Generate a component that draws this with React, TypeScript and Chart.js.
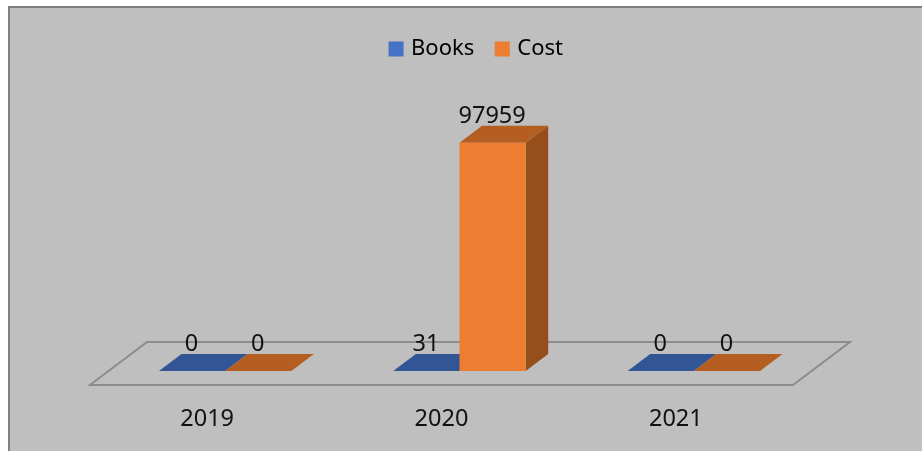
import React, { useEffect, useRef } from "react";
import { Chart, registerables } from "chart.js";

Chart.register(...registerables);

const categories = ["2019", "2020", "2021"];
const books = [0, 31, 0];
const cost = [0, 97959, 0];
const seriesNames = ["Books", "Cost"];

const FONT = '"Noto Sans", sans-serif';
const FRONT = ["#4472C4", "#ED7D31"];
const TOP = ["#325596", "#B55E22"];
const SIDE = ["#2A4A85", "#964F1B"];
const DX = 22.5;
const DY = 17;

const poly = (ctx: CanvasRenderingContext2D, pts: number[][], fill: string) => {
  ctx.beginPath();
  pts.forEach(([x, y], i) => (i ? ctx.lineTo(x, y) : ctx.moveTo(x, y)));
  ctx.closePath();
  ctx.fillStyle = fill;
  ctx.fill();
};

const legendShift = {
  id: "legendShift",
  afterLayout(chart: any) {
    chart.legend.left += 18;
    chart.legend.right += 18;
  },
};

const floor3d = {
  id: "floor3d",
  beforeDatasetsDraw(chart: any) {
    const { ctx, chartArea: a } = chart;
    ctx.save();
    ctx.beginPath();
    ctx.moveTo(a.left - 18, a.bottom + 14);
    ctx.lineTo(a.right - 18, a.bottom + 14);
    ctx.lineTo(a.right + 39, a.bottom - 29);
    ctx.lineTo(a.left + 39, a.bottom - 29);
    ctx.closePath();
    ctx.lineWidth = 2;
    ctx.strokeStyle = "#8C8C8C";
    ctx.stroke();
    chart.data.datasets.forEach((_: any, d: number) => {
      chart.getDatasetMeta(d).data.forEach((bar: any) => {
        const l = bar.x - bar.width / 2;
        const r = bar.x + bar.width / 2;
        const t = bar.y;
        const b = bar.base;
        poly(ctx, [[r, t], [r + DX, t - DY], [r + DX, b - DY], [r, b]], SIDE[d]);
        poly(ctx, [[l, t], [r, t], [r + DX, t - DY], [l + DX, t - DY]], TOP[d]);
      });
    });
    ctx.restore();
  },
};

const valueLabels = {
  id: "valueLabels",
  afterDatasetsDraw(chart: any) {
    const { ctx } = chart;
    ctx.save();
    ctx.font = `23.5px ${FONT}`;
    ctx.fillStyle = "#111111";
    ctx.textAlign = "center";
    ctx.textBaseline = "alphabetic";
    chart.data.datasets.forEach((ds: any, d: number) => {
      chart.getDatasetMeta(d).data.forEach((bar: any, i: number) => {
        ctx.fillText(String(ds.data[i]), bar.x - 0.5, bar.y - DY - 3);
      });
    });
    ctx.restore();
  },
};

export default function App() {
  const ref = useRef<HTMLCanvasElement>(null);
  useEffect(() => {
    const chart = new Chart(ref.current!, {
      type: "bar",
      data: {
        labels: categories,
        datasets: [
          { label: seriesNames[0], data: books, backgroundColor: FRONT[0] },
          { label: seriesNames[1], data: cost, backgroundColor: FRONT[1] },
        ],
      },
      options: {
        animation: false,
        responsive: false,
        layout: { padding: { left: 108, right: 111, top: 14, bottom: 19 } },
        datasets: { bar: { categoryPercentage: 0.565, barPercentage: 1 } },
        scales: {
          x: {
            grid: { display: false, drawTicks: false },
            border: { display: false },
            afterFit(scale: any) {
              scale.height = 61;
            },
            ticks: {
              color: "#111111",
              font: { family: FONT, size: 23.5 },
              padding: 34,
              labelOffset: -18,
              maxRotation: 0,
              autoSkip: false,
            },
          },
          y: { display: false, min: 0, max: 129185 },
        },
        plugins: {
          tooltip: { enabled: false },
          legend: {
            position: "top",
            labels: {
              color: "#111111",
              font: { family: FONT, size: 22 },
              boxWidth: 8,
              boxHeight: 8,
              padding: 24,
              generateLabels: () =>
                seriesNames.map((text, i) => ({
                  text,
                  fillStyle: FRONT[i],
                  strokeStyle: FRONT[i],
                  lineWidth: 7,
                  datasetIndex: i,
                })),
            },
          },
        },
      },
      plugins: [legendShift, floor3d, valueLabels],
    } as any);
    return () => chart.destroy();
  }, []);
  return (
    <div style={{ position: "fixed", left: 0, top: 0, width: 922, height: 451, background: "#FFFFFF", overflow: "hidden" }}>
      <div
        style={{
          position: "absolute",
          left: 8,
          top: 6,
          width: 914,
          height: 445,
          boxSizing: "border-box",
          background: "#BFBFBF",
          borderLeft: "2px solid #7F7F7F",
          borderTop: "2px solid #7F7F7F",
        }}
      />
      <canvas ref={ref} width={922} height={451} style={{ position: "absolute", left: 0, top: 0 }} />
    </div>
  );
}
